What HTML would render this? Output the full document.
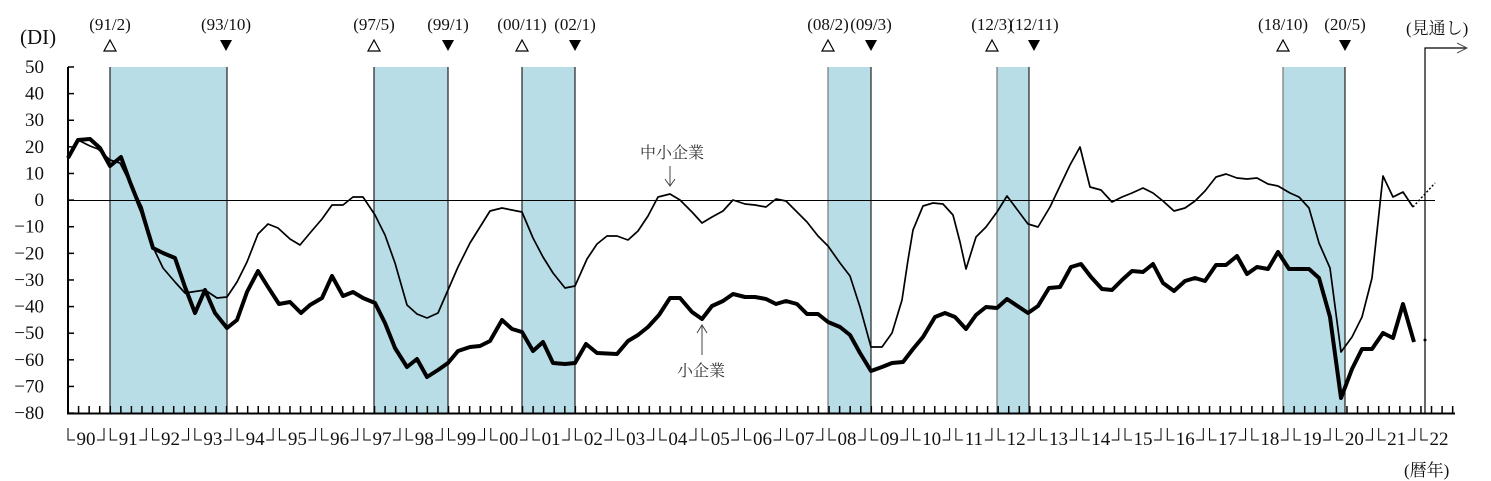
<!DOCTYPE html>
<html><head><meta charset="utf-8"><style>
html,body{margin:0;padding:0;background:#fff}
svg{display:block}
text{font-family:"Liberation Serif","Noto Serif CJK SC","Noto Sans CJK JP",serif;fill:#111}
</style></head><body>
<svg width="1491" height="481" viewBox="0 0 1491 481" xmlns="http://www.w3.org/2000/svg">
<g fill="#b8dde7">
<rect x="110" y="67" width="117" height="346"/>
<rect x="374" y="67" width="74" height="346"/>
<rect x="522" y="67" width="53" height="346"/>
<rect x="828" y="67" width="43" height="346"/>
<rect x="997" y="67" width="32" height="346"/>
<rect x="1283" y="67" width="62" height="346"/>
</g>
<g stroke="#222" stroke-width="1.2">
<line x1="110" y1="67" x2="110" y2="413"/><line x1="227" y1="67" x2="227" y2="413"/>
<line x1="374" y1="67" x2="374" y2="413"/><line x1="448" y1="67" x2="448" y2="413"/>
<line x1="522" y1="67" x2="522" y2="413"/><line x1="575" y1="67" x2="575" y2="413"/>
<line x1="828" y1="67" x2="828" y2="413" stroke="#777"/><line x1="871" y1="67" x2="871" y2="413"/>
<line x1="997" y1="67" x2="997" y2="413" stroke="#777"/><line x1="1029" y1="67" x2="1029" y2="413"/>
<line x1="1283" y1="67" x2="1283" y2="413" stroke="#777"/><line x1="1345" y1="67" x2="1345" y2="413"/>
</g>
<line x1="68" y1="200.5" x2="1435" y2="200.5" stroke="#000" stroke-width="1"/>
<line x1="68" y1="67" x2="68" y2="414" stroke="#000" stroke-width="2"/>
<line x1="67" y1="413.5" x2="1455" y2="413.5" stroke="#000" stroke-width="2"/>
<g stroke="#000" stroke-width="1.5" id="yt"></g>
<g stroke="#000" stroke-width="1.5" id="xt"></g>
<g id="yl"></g><g id="xl"></g>
<polyline points="1425,413 1425,48 1467,48" fill="none" stroke="#000" stroke-width="1.2"/>
<polyline points="1457,43 1467,48 1457,53" fill="none" stroke="#555" stroke-width="1"/>
<polyline fill="none" stroke="#000" stroke-width="1.7" stroke-linejoin="round" points="68,158 78,140 90,146 98,149 110,160 120,163 130,183 142,207 153,247 163,268 175,282 185,293 205,290 217,298 227,297 237,282 247,262 258,234 268,224 278,228 290,239 300,245 310,233 322,219 332,205 343,205 353,197 363,197 375,215 385,235 395,263 407,305 417,314 427,318 438,313 448,290 458,267 470,243 480,227 490,211 502,208 522,212 533,238 543,257 553,273 565,288 575,286 587,259 597,244 607,236 617,236 628,240 638,231 648,216 658,197 670,194 680,200 692,212 702,223 712,217 723,211 733,200 745,204 755,205 766,207 776,199 786,201 797,212 807,222 818,236 828,246 840,263 850,276 860,307 871,347 882,347 892,333 902,300 908,260 913,230 923,206 933,203 943,204 953,215 960,242 966,269 976,237 986,227 997,212 1007,196 1028,224 1038,227 1050,207 1060,186 1070,165 1080,147 1090,187 1101,190 1112,202 1122,197 1132,193 1143,188 1153,193 1163,201 1174,211 1185,208 1195,201 1205,191 1216,177 1226,174 1237,178 1247,179 1257,178 1268,184 1278,186 1290,193 1299,197 1309,208 1319,243 1330,268 1341,352 1352,337 1362,317 1372,278 1383,176 1393,197 1403,192 1413,207"/>
<polyline fill="none" stroke="#000" stroke-width="1.5" stroke-dasharray="2,2" points="1413,207 1435,183"/>
<polyline fill="none" stroke="#000" stroke-width="4" stroke-linejoin="round" points="68,158 78,140 90,139 100,148 110,166 121,157 130,182 142,212 153,248 163,253 175,258 185,287 195,313 205,290 215,313 227,328 237,320 247,292 258,271 268,287 279,304 290,302 301,313 310,305 322,298 332,276 343,296 353,292 363,298 375,303 385,323 395,348 407,367 417,359 427,377 438,370 448,363 458,351 470,347 480,346 490,341 502,320 512,329 522,332 533,351 543,342 553,363 565,364 575,363 586,344 597,353 617,354 628,341 638,335 648,327 659,315 670,298 680,298 692,312 702,319 712,306 723,301 733,294 745,297 755,297 766,299 776,304 786,301 797,304 807,314 818,314 828,322 840,327 850,335 860,353 871,371 882,367 892,363 903,362 913,349 923,337 935,317 945,313 955,317 966,329 976,315 986,307 997,308 1007,299 1028,313 1038,306 1049,288 1060,287 1071,267 1081,264 1091,277 1102,289 1112,290 1122,280 1132,271 1143,272 1153,264 1163,283 1174,291 1185,281 1195,278 1205,281 1216,265 1226,265 1237,256 1247,274 1257,267 1268,269 1278,252 1289,269 1299,269 1309,269 1319,278 1330,317 1341,398 1352,369 1362,349 1372,349 1383,333 1393,338 1403,304 1414,342"/>
<circle cx="1425" cy="340" r="1.5" fill="#000"/>
<text x="640" y="158" font-size="16" style="fill:#333">中小企業</text>
<polyline points="670,166 670,186" stroke="#444" fill="none"/><polyline points="665,179 670,186 675,179" stroke="#444" fill="none"/>
<text x="677" y="376" font-size="16" style="fill:#333">小企業</text>
<polyline points="702,355 702,325" stroke="#444" fill="none"/><polyline points="697,333 702,325 707,333" stroke="#444" fill="none"/>
<text x="20" y="44" font-size="21">(DI)</text>
<text x="1404" y="476" font-size="17">(暦年)</text>
<text x="1406" y="34" font-size="17">(見通し)</text>
<g font-size="17" text-anchor="middle">
<text x="110" y="30">(91/2)</text><text x="226" y="30">(93/10)</text>
<text x="374" y="30">(97/5)</text><text x="448" y="30">(99/1)</text>
<text x="522" y="30">(00/11)</text><text x="575" y="30">(02/1)</text>
<text x="828" y="30">(08/2)</text><text x="871" y="30">(09/3)</text>
<text x="992" y="30">(12/3)</text><text x="1034" y="30">(12/11)</text>
<text x="1283" y="30">(18/10)</text><text x="1345" y="30">(20/5)</text>
</g>
<g fill="#fff" stroke="#000" stroke-width="1.2">
<polygon points="110,40 104,51 116,51"/><polygon points="374,40 368,51 380,51"/>
<polygon points="522,40 516,51 528,51"/><polygon points="828,40 822,51 834,51"/>
<polygon points="992,40 986,51 998,51"/><polygon points="1283,40 1277,51 1289,51"/>
</g>
<g fill="#000">
<polygon points="220,40 232,40 226,51"/><polygon points="442,40 454,40 448,51"/>
<polygon points="569,40 581,40 575,51"/><polygon points="865,40 877,40 871,51"/>
<polygon points="1028,40 1040,40 1034,51"/><polygon points="1339,40 1351,40 1345,51"/>
</g>
</svg>
<script>
var ns="http://www.w3.org/2000/svg";
function el(p,t,a,txt){var e=document.createElementNS(ns,t);for(var k in a)e.setAttribute(k,a[k]);if(txt!==undefined)e.textContent=txt;document.getElementById(p).appendChild(e);}
for(var i=0;i<=13;i++){var v=50-10*i,y=67+i*26.62;
 el("yt","line",{x1:68,x2:74,y1:y,y2:y});
 el("yl","text",{x:44,y:y+6,"font-size":19,"text-anchor":"end"},v<0?"−"+(-v):String(v));}
for(var q=0;q<=131;q++){var x=68+q*10.57;el("xt","line",{x1:x,x2:x,y1:413,y2:406});}
for(var yr=0;yr<33;yr++){var x0=68+yr*42.28,x1=x0+36;
 var s=String((90+yr)%100).padStart(2,"0");
 el("xl","polyline",{points:x0+",428 "+x0+",440 "+(x0+7)+",440",fill:"none",stroke:"#000","stroke-width":1});
 if(yr<32)el("xl","polyline",{points:(x1-7)+",440 "+x1+",440 "+x1+",428",fill:"none",stroke:"#000","stroke-width":1});
 el("xl","text",{x:x0+18,y:445,"font-size":19,"text-anchor":"middle"},s);}
</script>
</body></html>
